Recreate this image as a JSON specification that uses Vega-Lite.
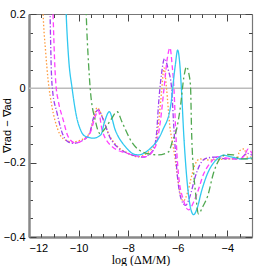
{
  "$schema": "https://vega.github.io/schema/vega-lite/v6.json",
  "width": 223,
  "height": 223,
  "autosize": {"type": "none"},
  "padding": {"left": 29, "top": 14, "right": 14, "bottom": 29},
  "config": {
    "view": {"stroke": null},
    "axis": {"grid": false, "labelFont": "Liberation Sans", "labelFontSize": 11, "labelColor": "#000", "tickColor": "#444", "domainColor": "#777", "titleColor": "#000"}
  },
  "data": {"values": [
    {"s": "a", "x": -11.5, "y": 0.35}, {"s": "a", "x": -11.43, "y": 0.2}, {"s": "a", "x": -11.33, "y": 0.1}, {"s": "a", "x": -11.23, "y": 0.023}, {"s": "a", "x": -11.07, "y": -0.05}, {"s": "a", "x": -10.83, "y": -0.112}, {"s": "a", "x": -10.54, "y": -0.139}, {"s": "a", "x": -10.22, "y": -0.144}, {"s": "a", "x": -9.81, "y": -0.136}, {"s": "a", "x": -9.55, "y": -0.12}, {"s": "a", "x": -9.42, "y": -0.09}, {"s": "a", "x": -9.25, "y": -0.052}, {"s": "a", "x": -9.05, "y": -0.075}, {"s": "a", "x": -8.8, "y": -0.12}, {"s": "a", "x": -8.45, "y": -0.155}, {"s": "a", "x": -8.11, "y": -0.171}, {"s": "a", "x": -7.6, "y": -0.184}, {"s": "a", "x": -7.2, "y": -0.172}, {"s": "a", "x": -6.9, "y": -0.147}, {"s": "a", "x": -6.75, "y": -0.08}, {"s": "a", "x": -6.65, "y": -0.01}, {"s": "a", "x": -6.55, "y": 0.055}, {"s": "a", "x": -6.45, "y": 0.0}, {"s": "a", "x": -6.32, "y": -0.1}, {"s": "a", "x": -6.17, "y": -0.16}, {"s": "a", "x": -6.05, "y": -0.215}, {"s": "a", "x": -5.88, "y": -0.29}, {"s": "a", "x": -5.77, "y": -0.303}, {"s": "a", "x": -5.6, "y": -0.28}, {"s": "a", "x": -5.45, "y": -0.24}, {"s": "a", "x": -5.3, "y": -0.205}, {"s": "a", "x": -5.1, "y": -0.19}, {"s": "a", "x": -4.7, "y": -0.193}, {"s": "a", "x": -4.0, "y": -0.19}, {"s": "a", "x": -3.6, "y": -0.19}, {"s": "a", "x": -3.5, "y": -0.168}, {"s": "a", "x": -3.3, "y": -0.163}, {"s": "a", "x": -3.22, "y": -0.185}, {"s": "a", "x": -3.0, "y": -0.185},

    {"s": "b", "x": -11.2, "y": 0.35}, {"s": "b", "x": -11.15, "y": 0.2}, {"s": "b", "x": -11.1, "y": 0.05}, {"s": "b", "x": -11.05, "y": -0.005}, {"s": "b", "x": -10.87, "y": -0.066}, {"s": "b", "x": -10.66, "y": -0.12}, {"s": "b", "x": -10.42, "y": -0.144}, {"s": "b", "x": -10.22, "y": -0.148}, {"s": "b", "x": -9.8, "y": -0.139}, {"s": "b", "x": -9.55, "y": -0.12}, {"s": "b", "x": -9.4, "y": -0.08}, {"s": "b", "x": -9.2, "y": -0.058}, {"s": "b", "x": -9.0, "y": -0.085}, {"s": "b", "x": -8.75, "y": -0.13}, {"s": "b", "x": -8.4, "y": -0.16}, {"s": "b", "x": -8.0, "y": -0.175}, {"s": "b", "x": -7.4, "y": -0.185}, {"s": "b", "x": -7.0, "y": -0.168}, {"s": "b", "x": -6.85, "y": -0.12}, {"s": "b", "x": -6.78, "y": -0.05}, {"s": "b", "x": -6.65, "y": 0.04}, {"s": "b", "x": -6.53, "y": 0.08}, {"s": "b", "x": -6.38, "y": 0.05}, {"s": "b", "x": -6.25, "y": 0.004}, {"s": "b", "x": -6.15, "y": -0.11}, {"s": "b", "x": -6.02, "y": -0.23}, {"s": "b", "x": -5.85, "y": -0.3}, {"s": "b", "x": -5.68, "y": -0.315}, {"s": "b", "x": -5.5, "y": -0.29}, {"s": "b", "x": -5.3, "y": -0.24}, {"s": "b", "x": -5.1, "y": -0.205}, {"s": "b", "x": -4.9, "y": -0.19}, {"s": "b", "x": -4.5, "y": -0.185}, {"s": "b", "x": -4.0, "y": -0.19}, {"s": "b", "x": -3.5, "y": -0.19}, {"s": "b", "x": -3.2, "y": -0.175}, {"s": "b", "x": -3.0, "y": -0.18},

    {"s": "c", "x": -11.1, "y": 0.35}, {"s": "c", "x": -11.03, "y": 0.2}, {"s": "c", "x": -10.95, "y": 0.05}, {"s": "c", "x": -10.9, "y": 0.0}, {"s": "c", "x": -10.83, "y": -0.03}, {"s": "c", "x": -10.62, "y": -0.085}, {"s": "c", "x": -10.42, "y": -0.13}, {"s": "c", "x": -10.14, "y": -0.147}, {"s": "c", "x": -9.81, "y": -0.139}, {"s": "c", "x": -9.53, "y": -0.12}, {"s": "c", "x": -9.33, "y": -0.077}, {"s": "c", "x": -9.2, "y": -0.06}, {"s": "c", "x": -9.05, "y": -0.112}, {"s": "c", "x": -8.64, "y": -0.157}, {"s": "c", "x": -7.99, "y": -0.176}, {"s": "c", "x": -7.3, "y": -0.184}, {"s": "c", "x": -6.9, "y": -0.157}, {"s": "c", "x": -6.7, "y": -0.09}, {"s": "c", "x": -6.55, "y": 0.0}, {"s": "c", "x": -6.42, "y": 0.08}, {"s": "c", "x": -6.31, "y": 0.109}, {"s": "c", "x": -6.22, "y": 0.06}, {"s": "c", "x": -6.15, "y": 0.0}, {"s": "c", "x": -6.08, "y": -0.112}, {"s": "c", "x": -5.97, "y": -0.23}, {"s": "c", "x": -5.77, "y": -0.3}, {"s": "c", "x": -5.56, "y": -0.327}, {"s": "c", "x": -5.35, "y": -0.305}, {"s": "c", "x": -5.2, "y": -0.28}, {"s": "c", "x": -4.95, "y": -0.23}, {"s": "c", "x": -4.67, "y": -0.2}, {"s": "c", "x": -4.39, "y": -0.184}, {"s": "c", "x": -4.0, "y": -0.188}, {"s": "c", "x": -3.5, "y": -0.19}, {"s": "c", "x": -3.3, "y": -0.18}, {"s": "c", "x": -3.15, "y": -0.163}, {"s": "c", "x": -3.0, "y": -0.175},

    {"s": "d", "x": -10.6, "y": 0.4}, {"s": "d", "x": -10.5, "y": 0.2}, {"s": "d", "x": -10.4, "y": 0.08}, {"s": "d", "x": -10.26, "y": 0.0}, {"s": "d", "x": -10.1, "y": -0.07}, {"s": "d", "x": -9.9, "y": -0.115}, {"s": "d", "x": -9.7, "y": -0.13}, {"s": "d", "x": -9.4, "y": -0.134}, {"s": "d", "x": -9.1, "y": -0.125}, {"s": "d", "x": -8.95, "y": -0.09}, {"s": "d", "x": -8.76, "y": -0.063}, {"s": "d", "x": -8.52, "y": -0.112}, {"s": "d", "x": -8.11, "y": -0.157}, {"s": "d", "x": -7.8, "y": -0.176}, {"s": "d", "x": -7.6, "y": -0.179}, {"s": "d", "x": -7.18, "y": -0.166}, {"s": "d", "x": -6.6, "y": -0.112}, {"s": "d", "x": -6.29, "y": -0.05}, {"s": "d", "x": -6.1, "y": 0.06}, {"s": "d", "x": -6.0, "y": 0.103}, {"s": "d", "x": -5.92, "y": 0.07}, {"s": "d", "x": -5.85, "y": 0.0}, {"s": "d", "x": -5.75, "y": -0.13}, {"s": "d", "x": -5.62, "y": -0.25}, {"s": "d", "x": -5.5, "y": -0.315}, {"s": "d", "x": -5.36, "y": -0.34}, {"s": "d", "x": -5.2, "y": -0.32}, {"s": "d", "x": -5.05, "y": -0.28}, {"s": "d", "x": -4.8, "y": -0.23}, {"s": "d", "x": -4.6, "y": -0.205}, {"s": "d", "x": -4.45, "y": -0.193}, {"s": "d", "x": -4.15, "y": -0.18}, {"s": "d", "x": -3.8, "y": -0.185}, {"s": "d", "x": -3.4, "y": -0.19}, {"s": "d", "x": -3.0, "y": -0.187},

    {"s": "e", "x": -9.75, "y": 0.35}, {"s": "e", "x": -9.69, "y": 0.2}, {"s": "e", "x": -9.6, "y": 0.07}, {"s": "e", "x": -9.53, "y": 0.0}, {"s": "e", "x": -9.33, "y": -0.085}, {"s": "e", "x": -9.13, "y": -0.122}, {"s": "e", "x": -8.95, "y": -0.11}, {"s": "e", "x": -8.7, "y": -0.085}, {"s": "e", "x": -8.44, "y": -0.063}, {"s": "e", "x": -8.25, "y": -0.09}, {"s": "e", "x": -7.83, "y": -0.147}, {"s": "e", "x": -7.3, "y": -0.174}, {"s": "e", "x": -6.78, "y": -0.179}, {"s": "e", "x": -6.37, "y": -0.171}, {"s": "e", "x": -6.2, "y": -0.14}, {"s": "e", "x": -6.05, "y": -0.112}, {"s": "e", "x": -5.89, "y": -0.05}, {"s": "e", "x": -5.75, "y": 0.03}, {"s": "e", "x": -5.64, "y": 0.058}, {"s": "e", "x": -5.55, "y": 0.04}, {"s": "e", "x": -5.48, "y": 0.004}, {"s": "e", "x": -5.44, "y": -0.112}, {"s": "e", "x": -5.35, "y": -0.23}, {"s": "e", "x": -5.28, "y": -0.28}, {"s": "e", "x": -5.16, "y": -0.338}, {"s": "e", "x": -5.0, "y": -0.32}, {"s": "e", "x": -4.79, "y": -0.29}, {"s": "e", "x": -4.55, "y": -0.227}, {"s": "e", "x": -4.3, "y": -0.19}, {"s": "e", "x": -4.0, "y": -0.178}, {"s": "e", "x": -3.75, "y": -0.179}, {"s": "e", "x": -3.5, "y": -0.19}, {"s": "e", "x": -3.0, "y": -0.19}
  ]},
  "resolve": {"axis": {"x": "independent", "y": "independent"}},
  "layer": [
    {
      "data": {"values": [{"z": 0}]},
      "mark": {"type": "rule", "color": "#bbbbbb", "strokeWidth": 1.5},
      "encoding": {
        "y": {"field": "z", "type": "quantitative", "scale": {"domain": [-0.4, 0.2], "nice": false, "zero": false},
          "axis": {"orient": "left", "values": [-0.4,-0.35,-0.3,-0.25,-0.2,-0.15,-0.1,-0.05,0,0.05,0.1,0.15,0.2], "tickSize": -3.5, "labels": false, "domain": false, "title": null}}
      }
    },
    {
      "mark": {"type": "line", "clip": true, "strokeWidth": 1.3, "interpolate": "monotone"},
      "encoding": {
        "x": {"field": "x", "type": "quantitative", "scale": {"domain": [-12, -3], "nice": false, "zero": false},
          "axis": {"orient": "bottom", "values": [-12,-10,-8,-6,-4], "tickSize": -7, "labelPadding": 12, "domainWidth": 2.5, "domainColor": "#888", "title": "log (ΔM/M)", "titleFont": "Liberation Serif", "titleFontSize": 12, "titleFontWeight": "normal", "titleX": 111.5, "titleY": 26.5, "titleBaseline": "alphabetic"}},
        "y": {"field": "y", "type": "quantitative", "scale": {"domain": [-0.4, 0.2], "nice": false, "zero": false},
          "axis": {"orient": "left", "values": [-0.4,-0.2,0,0.2], "tickSize": -7, "labelPadding": 11, "domainWidth": 2.5, "domainColor": "#888", "labelExpr": "datum.value == 0 ? '0' : format(datum.value, '.1f')", "title": "∇rad − ∇ad", "titleFont": "Liberation Sans", "titleFontSize": 11, "titleFontWeight": "normal", "titleX": -22, "titleY": 111, "titleBaseline": "middle", "titleAngle": -90}},
        "color": {"field": "s", "type": "nominal", "legend": null,
          "scale": {"domain": ["a","b","c","d","e"], "range": ["#ff9a3c", "#a040f0", "#ff40ff", "#30c8f0", "#50a850"]}},
        "strokeDash": {"field": "s", "type": "nominal", "legend": null,
          "scale": {"domain": ["a","b","c","d","e"], "range": [[1.5,2], [5,2,1.2,2], [5,3], [1,0], [7,3,2,3]]}}
      }
    },
    {
      "mark": {"type": "point", "opacity": 0},
      "encoding": {
        "x": {"field": "x", "type": "quantitative", "scale": {"domain": [-12, -3], "nice": false, "zero": false},
          "axis": {"orient": "bottom", "values": [-11.5,-11,-10.5,-9.5,-9,-8.5,-7.5,-7,-6.5,-5.5,-5,-4.5,-3.5], "tickSize": -3.5, "labels": false, "domain": false, "title": null}},
        "y": {"field": "y", "type": "quantitative", "scale": {"domain": [-0.4, 0.2], "nice": false, "zero": false},
          "axis": {"orient": "right", "values": [-0.4,-0.2,0,0.2], "tickSize": -7, "labels": false, "domainWidth": 1.2, "title": null}}
      }
    },
    {
      "mark": {"type": "point", "opacity": 0},
      "encoding": {
        "x": {"field": "x", "type": "quantitative", "scale": {"domain": [-12, -3], "nice": false, "zero": false},
          "axis": {"orient": "top", "values": [-12,-10,-8,-6,-4], "tickSize": -7, "labels": false, "domainWidth": 1.2, "title": null}},
        "y": {"field": "y", "type": "quantitative", "scale": {"domain": [-0.4, 0.2], "nice": false, "zero": false},
          "axis": {"orient": "right", "values": [-0.35,-0.3,-0.25,-0.15,-0.1,-0.05,0.05,0.1,0.15], "tickSize": -3.5, "labels": false, "domain": false, "title": null}}
      }
    },
    {
      "mark": {"type": "point", "opacity": 0},
      "encoding": {
        "x": {"field": "x", "type": "quantitative", "scale": {"domain": [-12, -3], "nice": false, "zero": false},
          "axis": {"orient": "top", "values": [-11.5,-11,-10.5,-9.5,-9,-8.5,-7.5,-7,-6.5,-5.5,-5,-4.5,-3.5], "tickSize": -3.5, "labels": false, "domain": false, "title": null}},
        "y": {"field": "y", "type": "quantitative", "scale": {"domain": [-0.4, 0.2], "nice": false, "zero": false}, "axis": null}
      }
    }
  ]
}
